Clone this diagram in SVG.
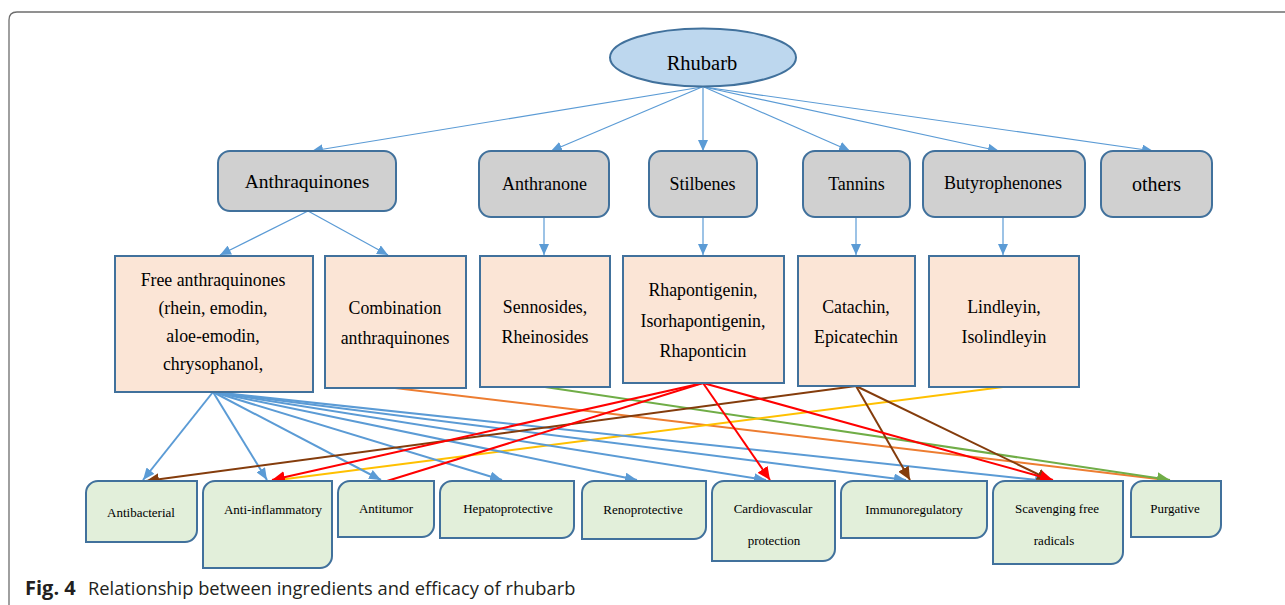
<svg xmlns="http://www.w3.org/2000/svg" width="1285" height="605" viewBox="0 0 1285 605">
<style>
.frame{fill:none;stroke:#6d6d6d;stroke-width:1.3}
.root{fill:#bdd7ee;stroke:#41719c;stroke-width:2}
.cat{fill:#d0d0d0;stroke:#41719c;stroke-width:2}
.ing{fill:#fbe5d6;stroke:#41719c;stroke-width:2}
.eff{fill:#e2efda;stroke:#41719c;stroke-width:2}
.t{font-family:"Liberation Serif","Times New Roman",serif;fill:#000;text-anchor:middle}
.t1{font-size:18px}
.t2{font-size:17.8px}
.t3{font-size:13px}
.up{stroke:#5b9bd5;stroke-width:1.2;fill:none}
.c{fill:none;stroke-width:2}
.blue{stroke:#5b9bd5}
.red{stroke:#ff0000}
.brown{stroke:#843c0c}
.yellow{stroke:#ffc000}
.orange{stroke:#ed7d31}
.green{stroke:#70ad47}
.cap{font-family:"Open Sans","Liberation Sans",sans-serif;font-size:18.3px;fill:#231f20}
</style>
<defs>
<marker id="aU" markerUnits="userSpaceOnUse" markerWidth="11" markerHeight="10" refX="11" refY="5" orient="auto"><path d="M0,0 L11,5 L0,10 z" fill="#5b9bd5"/></marker>
<marker id="aB" markerUnits="userSpaceOnUse" markerWidth="12" markerHeight="10" refX="12" refY="5" orient="auto"><path d="M0,0 L12,5 L0,10 z" fill="#5b9bd5"/></marker>
<marker id="aR" markerUnits="userSpaceOnUse" markerWidth="13" markerHeight="12" refX="13" refY="6" orient="auto"><path d="M0,0 L13,6 L0,12 z" fill="#ff0000"/></marker>
<marker id="aBr" markerUnits="userSpaceOnUse" markerWidth="13" markerHeight="12" refX="13" refY="6" orient="auto"><path d="M0,0 L13,6 L0,12 z" fill="#843c0c"/></marker>
<marker id="aG" markerUnits="userSpaceOnUse" markerWidth="13" markerHeight="12" refX="13" refY="6" orient="auto"><path d="M0,0 L13,6 L0,12 z" fill="#70ad47"/></marker>
</defs>

<path class="frame" d="M9,605 L9,20 Q9,12 17,12 L1285,12"/>

<g id="connectors">
  <line class="up" x1="702" y1="87" x2="312" y2="151" marker-end="url(#aU)"/>
  <line class="up" x1="702" y1="87" x2="551" y2="151" marker-end="url(#aU)"/>
  <line class="up" x1="703" y1="87" x2="703" y2="151" marker-end="url(#aU)"/>
  <line class="up" x1="704" y1="87" x2="850" y2="151" marker-end="url(#aU)"/>
  <line class="up" x1="704" y1="87" x2="999" y2="151" marker-end="url(#aU)"/>
  <line class="up" x1="704" y1="87" x2="1153" y2="151" marker-end="url(#aU)"/>
  <line class="up" x1="308" y1="211" x2="220" y2="255" marker-end="url(#aU)"/>
  <line class="up" x1="308" y1="211" x2="388" y2="255" marker-end="url(#aU)"/>
  <line class="up" x1="544" y1="217" x2="544" y2="255" marker-end="url(#aU)"/>
  <line class="up" x1="703" y1="217" x2="703" y2="255" marker-end="url(#aU)"/>
  <line class="up" x1="856" y1="217" x2="856" y2="255" marker-end="url(#aU)"/>
  <line class="up" x1="1003" y1="217" x2="1003" y2="255" marker-end="url(#aU)"/>

  <line class="c orange" x1="395" y1="388" x2="1166" y2="480"/>
  <line class="c green" x1="545" y1="387" x2="1170" y2="480" marker-end="url(#aG)"/>
  <line class="c yellow" x1="1003" y1="387" x2="278" y2="480"/>

  <line class="c blue" x1="213" y1="392" x2="143" y2="480" marker-end="url(#aB)"/>
  <line class="c blue" x1="213" y1="392" x2="267" y2="480" marker-end="url(#aB)"/>
  <line class="c blue" x1="213" y1="392" x2="381" y2="480" marker-end="url(#aB)"/>
  <line class="c blue" x1="213" y1="392" x2="502" y2="480" marker-end="url(#aB)"/>
  <line class="c blue" x1="213" y1="392" x2="637" y2="480" marker-end="url(#aB)"/>
  <line class="c blue" x1="213" y1="392" x2="766" y2="480" marker-end="url(#aB)"/>
  <line class="c blue" x1="213" y1="392" x2="906" y2="480" marker-end="url(#aB)"/>
  <line class="c blue" x1="213" y1="392" x2="1047" y2="481" marker-end="url(#aB)"/>

  <line class="c brown" x1="856" y1="386" x2="146" y2="481" marker-end="url(#aBr)"/>
  <line class="c brown" x1="856" y1="386" x2="910" y2="480" marker-end="url(#aBr)"/>
  <line class="c brown" x1="856" y1="386" x2="1050" y2="480" marker-end="url(#aBr)"/>

  <line class="c red" x1="703" y1="383" x2="272" y2="480" marker-end="url(#aR)"/>
  <line class="c red" x1="703" y1="383" x2="387" y2="481"/>
  <line class="c red" x1="703" y1="383" x2="770" y2="480" marker-end="url(#aR)"/>
  <line class="c red" x1="703" y1="383" x2="1053" y2="480" marker-end="url(#aR)"/>
</g>

<g id="rhubarb"><ellipse class="root" cx="703" cy="57.5" rx="93" ry="29"/><text class="t" x="702" y="69.5" font-size="20.5">Rhubarb</text></g>

<g id="anthraquinones"><rect class="cat" x="218" y="151" width="178" height="60" rx="12"/><text class="t" x="307" y="188" font-size="19.5">Anthraquinones</text></g>
<g id="anthranone"><rect class="cat" x="479" y="151" width="130" height="66" rx="12"/><text class="t t1" x="544.5" y="190">Anthranone</text></g>
<g id="stilbenes"><rect class="cat" x="649" y="151" width="108" height="66" rx="12"/><text class="t t1" x="702.5" y="190">Stilbenes</text></g>
<g id="tannins"><rect class="cat" x="803" y="151" width="107" height="66" rx="12"/><text class="t t1" x="856.5" y="190">Tannins</text></g>
<g id="butyrophenones"><rect class="cat" x="923" y="151" width="162" height="66" rx="12"/><text class="t t1" x="1003" y="189">Butyrophenones</text></g>
<g id="others"><rect class="cat" x="1101" y="151" width="111" height="66" rx="12"/><text class="t" x="1156.5" y="191" font-size="20">others</text></g>

<g id="free-anthraquinones"><rect class="ing" x="115" y="256" width="198" height="136"/>
<text class="t t2" x="213" y="286">Free anthraquinones</text>
<text class="t t2" x="213" y="314">(rhein, emodin,</text>
<text class="t t2" x="213" y="342">aloe-emodin,</text>
<text class="t t2" x="213" y="370">chrysophanol,</text></g>
<g id="combination-anthraquinones"><rect class="ing" x="325" y="256" width="141" height="132"/>
<text class="t t2" x="395" y="314">Combination</text>
<text class="t t2" x="395" y="344">anthraquinones</text></g>
<g id="sennosides"><rect class="ing" x="480" y="256" width="130" height="131"/>
<text class="t t2" x="545" y="312.5">Sennosides,</text>
<text class="t t2" x="545" y="343">Rheinosides</text></g>
<g id="rhapontigenin"><rect class="ing" x="623" y="256" width="161" height="127"/>
<text class="t t2" x="703" y="296">Rhapontigenin,</text>
<text class="t t2" x="703" y="327">Isorhapontigenin,</text>
<text class="t t2" x="703" y="357">Rhaponticin</text></g>
<g id="catachin"><rect class="ing" x="798" y="256" width="117" height="130"/>
<text class="t t2" x="856" y="312.5">Catachin,</text>
<text class="t t2" x="856" y="343">Epicatechin</text></g>
<g id="lindleyin"><rect class="ing" x="929" y="256" width="150" height="131"/>
<text class="t t2" x="1004" y="312.5">Lindleyin,</text>
<text class="t t2" x="1004" y="343">Isolindleyin</text></g>

<g id="antibacterial"><path class="eff" d="M86,493 A12,12 0 0 1 98,481 L197,481 L197,530 A12,12 0 0 1 185,542 L86,542 Z"/><text class="t t3" x="141" y="516.5">Antibacterial</text></g>
<g id="anti-inflammatory"><path class="eff" d="M203,493 A12,12 0 0 1 215,481 L332,481 L332,556 A12,12 0 0 1 320,568 L203,568 Z"/><text class="t t3" x="273" y="513.5">Anti-inflammatory</text></g>
<g id="antitumor"><path class="eff" d="M338,493 A12,12 0 0 1 350,481 L434,481 L434,525 A12,12 0 0 1 422,537 L338,537 Z"/><text class="t t3" x="386" y="513">Antitumor</text></g>
<g id="hepatoprotective"><path class="eff" d="M440,493 A12,12 0 0 1 452,481 L574,481 L574,526 A12,12 0 0 1 562,538 L440,538 Z"/><text class="t t3" x="508" y="513">Hepatoprotective</text></g>
<g id="renoprotective"><path class="eff" d="M582,493 A12,12 0 0 1 594,481 L706,481 L706,527 A12,12 0 0 1 694,539 L582,539 Z"/><text class="t t3" x="643" y="514">Renoprotective</text></g>
<g id="cardiovascular"><path class="eff" d="M712,493 A12,12 0 0 1 724,481 L835,481 L835,549 A12,12 0 0 1 823,561 L712,561 Z"/><text class="t t3" x="773" y="513">Cardiovascular</text><text class="t t3" x="774" y="545">protection</text></g>
<g id="immunoregulatory"><path class="eff" d="M841,493 A12,12 0 0 1 853,481 L987,481 L987,526 A12,12 0 0 1 975,538 L841,538 Z"/><text class="t t3" x="914" y="514">Immunoregulatory</text></g>
<g id="scavenging"><path class="eff" d="M993,493 A12,12 0 0 1 1005,481 L1123,481 L1123,552 A12,12 0 0 1 1111,564 L993,564 Z"/><text class="t t3" x="1057" y="513">Scavenging free</text><text class="t t3" x="1054" y="545">radicals</text></g>
<g id="purgative"><path class="eff" d="M1131,493 A12,12 0 0 1 1143,481 L1221,481 L1221,525 A12,12 0 0 1 1209,537 L1131,537 Z"/><text class="t t3" x="1175" y="513">Purgative</text></g>

<text class="cap" y="595"><tspan x="25" font-weight="bold" font-size="20">Fig. 4</tspan><tspan x="88">Relationship between ingredients and efficacy of rhubarb</tspan></text>
</svg>
